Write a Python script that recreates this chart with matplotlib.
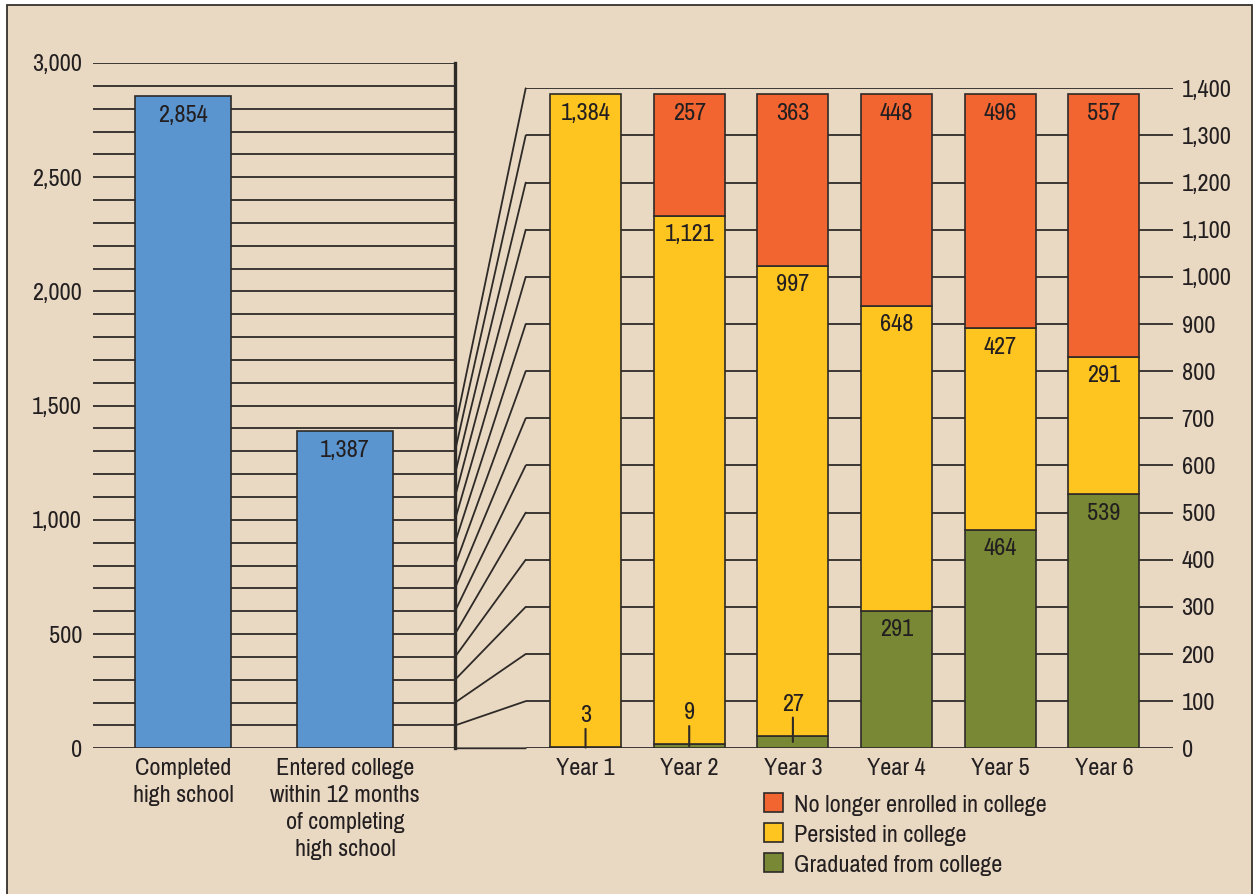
import numpy as np
import matplotlib
matplotlib.use("Agg")
import matplotlib.pyplot as plt
from matplotlib import font_manager as fm
from matplotlib.patches import Patch, Rectangle, ConnectionPatch
from matplotlib.transforms import offset_copy

# ---------------- data ----------------
left_categories = ["Completed\nhigh school",
                   "Entered college\nwithin 12 months\nof completing\nhigh school"]
left_values = [2854, 1387]

years = ["Year 1", "Year 2", "Year 3", "Year 4", "Year 5", "Year 6"]
graduated = [3, 9, 27, 291, 464, 539]
persisted = [1384, 1121, 997, 648, 427, 291]
not_enrolled = [0, 257, 363, 448, 496, 557]
series_labels = ["No longer enrolled in college", "Persisted in college",
                 "Graduated from college"]

left_ticks = [0, 500, 1000, 1500, 2000, 2500, 3000]
left_grid_step = 100
right_ticks = [0, 100, 200, 300, 400, 500, 600, 700, 800, 900, 1000,
               1100, 1200, 1300, 1400]

# ---------------- style ----------------
BG = "#e9d9c3"
BLUE = "#5b95cf"
ORANGE = "#f26531"
YELLOW = "#fec420"
GREEN = "#788834"
EDGE = "#2e2a27"
LINE = "#2e2a27"
TXT = "#231f20"
FS = 19

available = {f.name for f in fm.fontManager.ttflist}
preferred = ["Liberation Sans Narrow", "Nimbus Sans Narrow", "Pragati Narrow",
             "Archivo Narrow", "Roboto Condensed", "PT Sans Narrow",
             "Open Sans Condensed", "Liberation Sans"]
chosen = [f for f in preferred if f in available][:1]
plt.rcParams["font.family"] = chosen + ["DejaVu Sans"]

W, H = 1258, 894
fig = plt.figure(figsize=(W / 100, H / 100), dpi=100)
fig.patch.set_facecolor("white")

# beige panel with border
fig.patches.append(Rectangle((7 / W, -0.02), (1252 - 7) / W, 1 - 5 / H + 0.02,
                             transform=fig.transFigure, facecolor=BG,
                             edgecolor="#35302c", lw=1.3, zorder=-5))

# ---------------- left panel ----------------
y0 = 748.3
ax1 = fig.add_axes([93 / W, (H - y0) / H, (455 - 93) / W, (y0 - 63) / H])
ax1.set_facecolor("none")
ax1.set_ylim(0, left_ticks[-1])
ax1.set_xlim(-0.556, 1.679)
for s in ["top", "left", "bottom"]:
    ax1.spines[s].set_visible(False)
ax1.spines["right"].set_linewidth(2.4)
ax1.spines["right"].set_color(LINE)
ax1.spines["right"].set_zorder(4)

grid_left = np.arange(0, left_ticks[-1] + 1, left_grid_step)
ax1.hlines(grid_left, *ax1.get_xlim(), colors=LINE, lw=1.3, zorder=1)
ax1.bar(range(len(left_values)), left_values, width=0.593, color=BLUE,
        edgecolor=EDGE, lw=1.2, zorder=2)
for i, v in enumerate(left_values):
    ax1.annotate(f"{v:,}", xy=(i, v), xytext=(0, -6), textcoords="offset points",
                 ha="center", va="top", fontsize=FS, color=TXT, zorder=5)

ax1.set_yticks(left_ticks)
ax1.set_yticklabels([f"{t:,}" for t in left_ticks])
ax1.set_xticks(range(len(left_categories)))
ax1.set_xticklabels(left_categories, linespacing=1.36)
ax1.tick_params(axis="y", length=0, pad=8, labelsize=FS, labelcolor=TXT)
ax1.tick_params(axis="x", length=0, pad=7, labelsize=FS, labelcolor=TXT)

# ---------------- right panel ----------------
ax2 = fig.add_axes([525.7 / W, (H - y0) / H, (1172.5 - 525.7) / W, (y0 - 88.3) / H])
ax2.set_facecolor("none")
ax2.set_ylim(0, right_ticks[-1])
ax2.set_xlim(-0.577, 5.661)
for s in ax2.spines.values():
    s.set_visible(False)
ax2.hlines(right_ticks, *ax2.get_xlim(), colors=LINE, lw=1.3, zorder=1)

x = np.arange(len(years))
g = np.array(graduated)
p = np.array(persisted)
n = np.array(not_enrolled)
bw = 0.685
ax2.bar(x, g, width=bw, color=GREEN, edgecolor=EDGE, lw=1.2, zorder=2)
ax2.bar(x, p, bottom=g, width=bw, color=YELLOW, edgecolor=EDGE, lw=1.2, zorder=2)
nm = n > 0
ax2.bar(x[nm], n[nm], bottom=(g + p)[nm], width=bw, color=ORANGE,
        edgecolor=EDGE, lw=1.2, zorder=2)


def top_label(ax, xi, top, val):
    ax.annotate(f"{val:,}", xy=(xi, top), xytext=(0, -6), textcoords="offset points",
                ha="center", va="top", fontsize=FS, color=TXT, zorder=5)


line_tr = offset_copy(ax2.transData, fig=fig, y=18, units="dots")
text_tr = offset_copy(ax2.transData, fig=fig, y=21, units="dots")
for i in range(len(years)):
    if n[i] > 0:
        top_label(ax2, x[i], g[i] + p[i] + n[i], n[i])
    top_label(ax2, x[i], g[i] + p[i], p[i])
    if g[i] >= 100:
        top_label(ax2, x[i], g[i], g[i])
    else:
        ax2.annotate("", xy=(x[i], g[i] / 2), xycoords="data",
                     xytext=(x[i], g[i]), textcoords=line_tr,
                     arrowprops=dict(arrowstyle="-", color=LINE, lw=1.5,
                                     shrinkA=0, shrinkB=0), zorder=5)
        ax2.text(x[i], g[i], f"{g[i]:,}", transform=text_tr, ha="center",
                 va="bottom", fontsize=FS, color=TXT, zorder=5)

ax2.yaxis.tick_right()
ax2.set_yticks(right_ticks)
ax2.set_yticklabels([f"{t:,}" for t in right_ticks])
ax2.set_xticks(x)
ax2.set_xticklabels(years)
ax2.tick_params(axis="y", length=0, pad=6.5, labelsize=FS, labelcolor=TXT)
ax2.tick_params(axis="x", length=0, pad=7, labelsize=FS, labelcolor=TXT)

# connecting lines between the two scales
for v in right_ticks:
    con = ConnectionPatch(xyA=(ax1.get_xlim()[1], v), coordsA=ax1.transData,
                          xyB=(ax2.get_xlim()[0], v), coordsB=ax2.transData,
                          color=LINE, lw=1.3, zorder=1)
    fig.add_artist(con)

# legend
handles = [Patch(facecolor=c, edgecolor=EDGE, lw=1.2, label=l)
           for c, l in zip([ORANGE, YELLOW, GREEN], series_labels)]
fig.legend(handles=handles, loc="upper left", bbox_to_anchor=(764 / W, 1 - 793 / H),
           frameon=False, handlelength=0.72, handleheight=0.72, handletextpad=0.4,
           labelspacing=0.28, borderpad=0, borderaxespad=0, fontsize=FS,
           labelcolor=TXT)

fig.savefig("out.png", dpi=100, facecolor=fig.get_facecolor())
